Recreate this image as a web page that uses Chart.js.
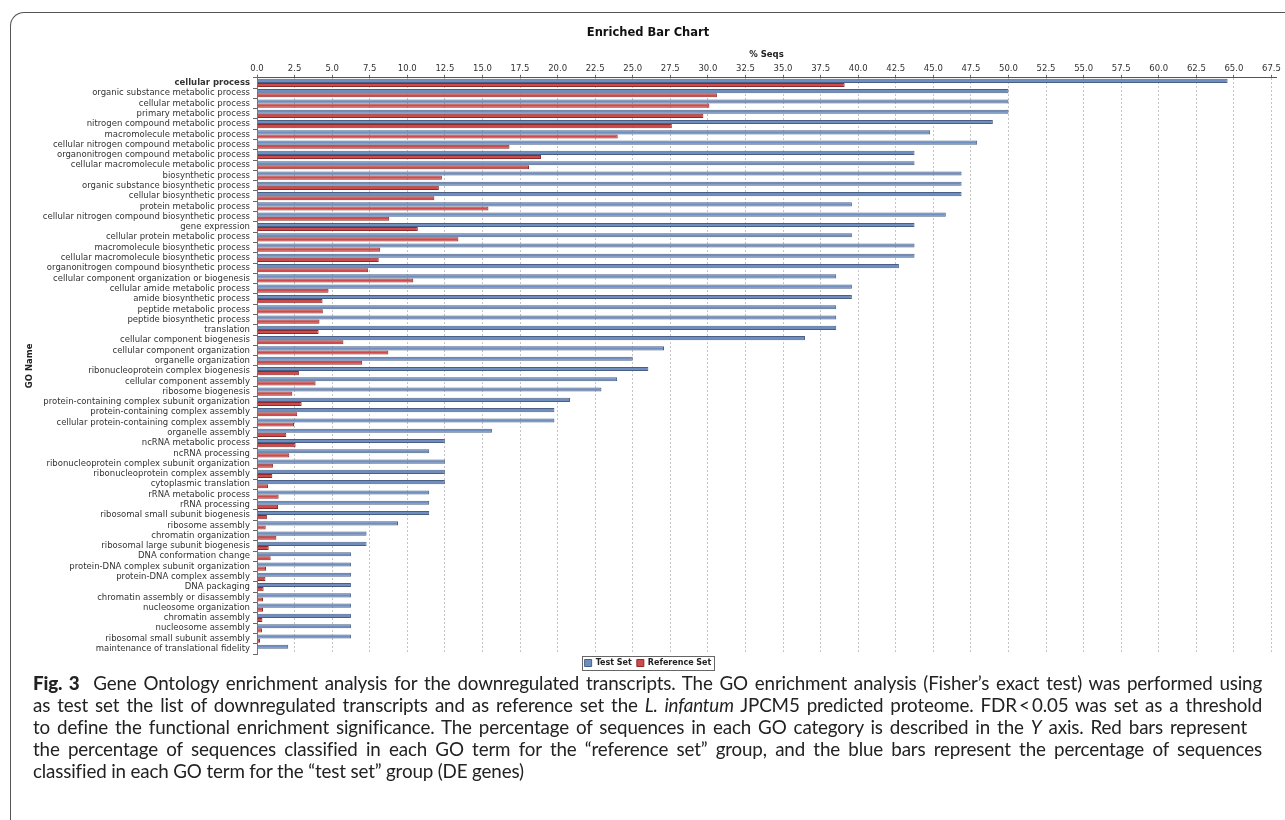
<!DOCTYPE html>
<html>
<head>
<meta charset="utf-8">
<title>Enriched Bar Chart</title>
<script src="https://cdn.jsdelivr.net/npm/chart.js@4.4.1/dist/chart.umd.min.js"></script>
<style>
  html, body { margin: 0; padding: 0; background: #fff; }
  body { width: 1285px; height: 820px; position: relative; overflow: hidden; }
  #frame {
    position: absolute; left: 10px; top: 12px; width: 1300px; height: 830px;
    border-left: 1.5px solid #555; border-top: 1.5px solid #555;
    border-top-left-radius: 14px;
  }
  #wrap { position: absolute; left: 0; top: 0; width: 1285px; height: 680px; }
  #caption {
    position: absolute; left: 33px; top: 672px; width: 1229px;
    font-family: Lato, "Open Sans", sans-serif; font-size: 18.8px; line-height: 22px; color: #222;
    letter-spacing: -0.15px;
  }
  #caption .l { white-space: nowrap; text-align: justify; text-align-last: justify; }
  #caption .last { text-align-last: left; }
  #caption b { font-weight: 900; }
</style>
</head>
<body>
<div id="frame"></div>
<div id="wrap"><canvas id="chart" width="1285" height="680"></canvas></div>
<div id="caption">
  <div class="l"><b>Fig. 3</b>&nbsp; Gene Ontology enrichment analysis for the downregulated transcripts. The GO enrichment analysis (Fisher’s exact test) was performed using</div>
  <div class="l">as test set the list of downregulated transcripts and as reference set the <i>L. infantum</i> JPCM5 predicted proteome. FDR&thinsp;&lt;&thinsp;0.05 was set as a threshold</div>
  <div class="l" style="width:1214px">to define the functional enrichment significance. The percentage of sequences in each GO category is described in the <i>Y</i> axis. Red bars represent</div>
  <div class="l">the percentage of sequences classified in each GO term for the “reference set” group, and the blue bars represent the percentage of sequences</div>
  <div class="l last">classified in each GO term for the “test set” group (DE genes)</div>
</div>
<script>
// GO terms, top to bottom
const goNames = [
  'cellular process',
  'organic substance metabolic process',
  'cellular metabolic process',
  'primary metabolic process',
  'nitrogen compound metabolic process',
  'macromolecule metabolic process',
  'cellular nitrogen compound metabolic process',
  'organonitrogen compound metabolic process',
  'cellular macromolecule metabolic process',
  'biosynthetic process',
  'organic substance biosynthetic process',
  'cellular biosynthetic process',
  'protein metabolic process',
  'cellular nitrogen compound biosynthetic process',
  'gene expression',
  'cellular protein metabolic process',
  'macromolecule biosynthetic process',
  'cellular macromolecule biosynthetic process',
  'organonitrogen compound biosynthetic process',
  'cellular component organization or biogenesis',
  'cellular amide metabolic process',
  'amide biosynthetic process',
  'peptide metabolic process',
  'peptide biosynthetic process',
  'translation',
  'cellular component biogenesis',
  'cellular component organization',
  'organelle organization',
  'ribonucleoprotein complex biogenesis',
  'cellular component assembly',
  'ribosome biogenesis',
  'protein-containing complex subunit organization',
  'protein-containing complex assembly',
  'cellular protein-containing complex assembly',
  'organelle assembly',
  'ncRNA metabolic process',
  'ncRNA processing',
  'ribonucleoprotein complex subunit organization',
  'ribonucleoprotein complex assembly',
  'cytoplasmic translation',
  'rRNA metabolic process',
  'rRNA processing',
  'ribosomal small subunit biogenesis',
  'ribosome assembly',
  'chromatin organization',
  'ribosomal large subunit biogenesis',
  'DNA conformation change',
  'protein-DNA complex subunit organization',
  'protein-DNA complex assembly',
  'DNA packaging',
  'chromatin assembly or disassembly',
  'nucleosome organization',
  'chromatin assembly',
  'nucleosome assembly',
  'ribosomal small subunit assembly',
  'maintenance of translational fidelity'
];

// % Seqs, test set (blue)
const testSet = [
  64.58, 50.0, 50.0, 50.0, 48.96, 44.79, 47.92, 43.75, 43.75, 46.88,
  46.88, 46.88, 39.58, 45.83, 43.75, 39.58, 43.75, 43.75, 42.71, 38.54,
  39.58, 39.58, 38.54, 38.54, 38.54, 36.46, 27.08, 25.0, 26.04, 23.96,
  22.92, 20.83, 19.79, 19.79, 15.63, 12.5, 11.46, 12.5, 12.5, 12.5,
  11.46, 11.46, 11.46, 9.38, 7.29, 7.29, 6.25, 6.25, 6.25, 6.25,
  6.25, 6.25, 6.25, 6.25, 6.25, 2.08
];

// % Seqs, reference set (red)
const referenceSet = [
  39.1, 30.6, 30.1, 29.7, 27.6, 24.0, 16.8, 18.9, 18.1, 12.3,
  12.1, 11.8, 15.4, 8.8, 10.7, 13.4, 8.2, 8.1, 7.4, 10.4,
  4.76, 4.36, 4.38, 4.16, 4.1, 5.75, 8.74, 7.0, 2.79, 3.9,
  2.35, 2.97, 2.68, 2.46, 1.95, 2.57, 2.15, 1.06, 1.02, 0.73,
  1.44, 1.4, 0.66, 0.58, 1.29, 0.78, 0.91, 0.6, 0.56, 0.44,
  0.4, 0.4, 0.36, 0.33, 0.2, 0
];

const FONT = 'DejaVu Sans';

// frame round the legend, like the original
const legendBoxPlugin = {
  id: 'legendBox',
  afterDraw(chart) {
    const boxes = chart.legend && chart.legend.legendHitBoxes;
    if (!boxes || !boxes.length) return;
    const first = boxes[0];
    const last = boxes[boxes.length - 1];
    const l = Math.round(first.left - 3) + 0.5;
    const r = Math.round(last.left + last.width + 3) + 0.5;
    const t = Math.round(first.top - 3) + 0.5;
    const b = Math.round(first.top + first.height + 3) + 0.5;
    const ctx = chart.ctx;
    ctx.save();
    ctx.strokeStyle = '#666';
    ctx.lineWidth = 1;
    ctx.strokeRect(l, t, r - l, b - t);
    ctx.restore();
  }
};

new Chart(document.getElementById('chart'), {
  type: 'bar',
  data: {
    labels: goNames,
    datasets: [
      {
        label: 'Test Set',
        data: testSet,
        backgroundColor: '#6f8ec0',
        borderColor: '#4a5f86',
        borderWidth: 1,
        categoryPercentage: 0.8,
        barPercentage: 1.0
      },
      {
        label: 'Reference Set',
        data: referenceSet,
        backgroundColor: '#cf4a4a',
        borderColor: '#8b2b2b',
        borderWidth: 1,
        categoryPercentage: 0.8,
        barPercentage: 1.0
      }
    ]
  },
  options: {
    indexAxis: 'y',
    responsive: false,
    animation: false,
    layout: { padding: { left: 20, right: 9, top: 15, bottom: 3 } },
    plugins: {
      title: {
        display: true,
        text: 'Enriched Bar Chart',
        color: '#111',
        font: { family: FONT, size: 11.5, weight: 'bold' },
        padding: { top: 11, bottom: 3 }
      },
      legend: {
        position: 'bottom',
        labels: {
          color: '#222',
          font: { family: FONT, size: 8, weight: 'bold' },
          boxWidth: 7,
          boxHeight: 7,
          padding: 5
        }
      },
      tooltip: { enabled: false }
    },
    scales: {
      x: {
        position: 'top',
        min: 0,
        max: 67.8,
        ticks: {
          stepSize: 2.5,
          includeBounds: false,
          autoSkip: false,
          maxRotation: 0,
          padding: 1,
          color: '#333',
          font: { family: FONT, size: 8.5 },
          callback: (v) => Number(v).toFixed(1)
        },
        grid: {
          color: '#c4c4c4',
          tickColor: '#666',
          tickLength: 3,
          drawTicks: true
        },
        border: { display: true, color: '#555', width: 1, dash: [2, 2] },
        title: {
          display: true,
          text: '% Seqs',
          color: '#222',
          font: { family: FONT, size: 8.5, weight: 'bold' },
          padding: { top: 6.6, bottom: 3 }
        }
      },
      y: {
        ticks: {
          autoSkip: false,
          padding: 3,
          color: '#333',
          font: (c) => ({ family: FONT, size: 8.5, weight: c.index === 0 ? 'bold' : 'normal' })
        },
        grid: {
          drawOnChartArea: false,
          drawTicks: true,
          tickLength: 4,
          tickColor: '#666'
        },
        border: { display: true, color: '#777', width: 1 },
        title: {
          display: true,
          text: 'GO Name',
          color: '#222',
          font: { family: FONT, size: 8.5, weight: 'bold' },
          padding: { top: 5, bottom: 0 }
        },
        afterFit: (scale) => { scale.width = 237; }
      }
    }
  },
  plugins: [legendBoxPlugin]
});
</script>
</body>
</html>
